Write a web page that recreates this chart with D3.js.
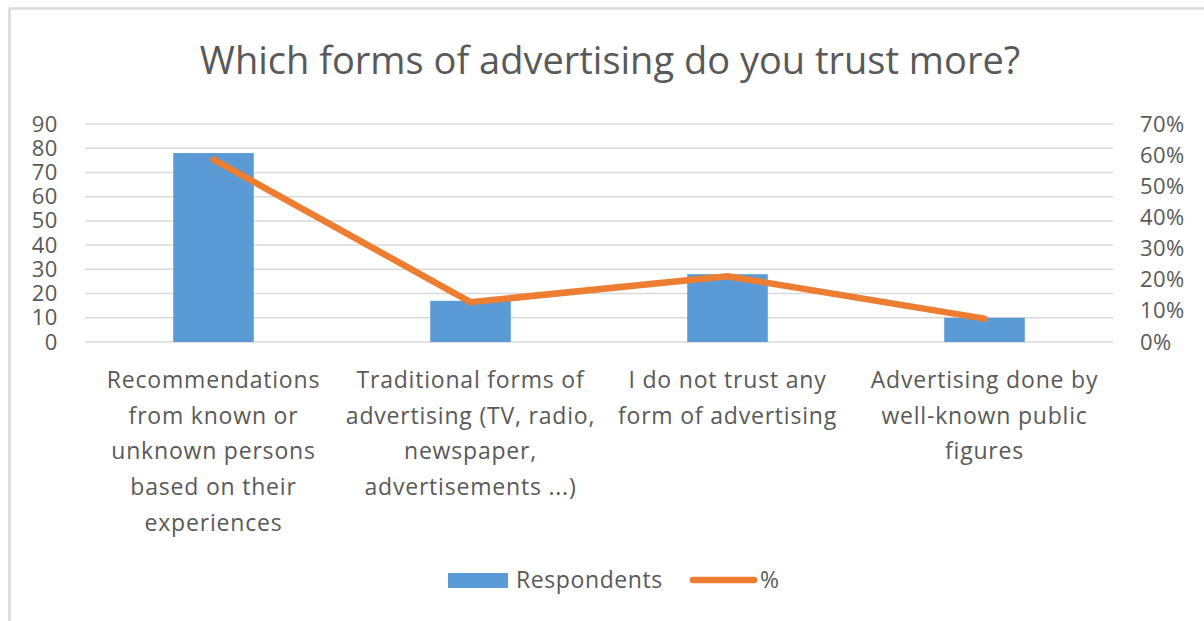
<!DOCTYPE html>
<html>
<head>
<meta charset="utf-8">
<script src="https://cdn.jsdelivr.net/npm/d3@7"></script>
<style>
  body { margin: 0; background: #fff; }
  text { font-family: "Open Sans", "DejaVu Sans", sans-serif; fill: #595959; }
</style>
</head>
<body>
<div id="graphe"></div>
<script>
//----------------------------------------------------------------
// données
//----------------------------------------------------------------
var categories = ["Recommendations from known or unknown persons based on their experiences",
                  "Traditional forms of advertising (TV, radio, newspaper, advertisements ...)",
                  "I do not trust any form of advertising",
                  "Advertising done by well-known public figures"];
var lignesCategories = [
    ["Recommendations", "from known or", "unknown persons", "based on their", "experiences"],
    ["Traditional forms of", "advertising (TV, radio,", "newspaper,", "advertisements ...)"],
    ["I do not trust any", "form of advertising"],
    ["Advertising done by", "well-known public", "figures"]
];
var repondants = [78, 17, 28, 10];
var pourcentages = [0.586, 0.128, 0.211, 0.075];
var ticksGauche = [0, 10, 20, 30, 40, 50, 60, 70, 80, 90];
var ticksDroite = [0, 0.1, 0.2, 0.3, 0.4, 0.5, 0.6, 0.7];
var titre = "Which forms of advertising do you trust more?";

//----------------------------------------------------------------
// création du svg
//----------------------------------------------------------------
largeurSvg = 1204 ; hauteurSvg = 621;
var zone = {haut: 124, droite: 1113, bas: 342, gauche: 85};

var svg = d3.select("#graphe")
    .append("svg")
    .attr("width", largeurSvg)
    .attr("height", hauteurSvg);

// bordure (haut et gauche visibles seulement)
svg.append("line")
    .attr("x1", 9).attr("y1", 8.5).attr("x2", largeurSvg).attr("y2", 8.5)
    .attr("stroke", "#d9d9d9").attr("stroke-width", 2.5);
svg.append("line")
    .attr("x1", 9.5).attr("y1", 8).attr("x2", 9.5).attr("y2", hauteurSvg)
    .attr("stroke", "#d9d9d9").attr("stroke-width", 2.5);

// titre
var t = svg.append("text")
    .attr("x", 610)
    .attr("y", 74)
    .attr("text-anchor", "middle")
    .style("font-size", "38px")
    .text(titre);
if (t.node().getComputedTextLength() > 828) {
    t.attr("textLength", 828).attr("lengthAdjust", "spacingAndGlyphs");
}

//----------------------------------------------------------------
// échelles
//----------------------------------------------------------------
var x = d3.scaleBand()
    .domain(categories)
    .range([zone.gauche, zone.droite])
    .padding(0);
var y = d3.scaleLinear()
    .domain([0, 90])
    .range([zone.bas, zone.haut]);
var y2 = d3.scaleLinear()
    .domain([0, 0.7])
    .range([zone.bas, zone.haut]);

var largeurBarre = x.bandwidth() / 3.19;

// lignes de grille
svg.append("g")
    .selectAll("line")
    .data(ticksGauche)
    .enter().append("line")
    .attr("x1", zone.gauche).attr("x2", zone.droite)
    .attr("y1", function(d) { return y(d); })
    .attr("y2", function(d) { return y(d); })
    .attr("stroke", "#d9d9d9")
    .attr("stroke-width", 1.5);

// axe gauche
var axeG = svg.append("g")
    .attr("transform", "translate(" + (zone.gauche - 27) + ",0)")
    .call(d3.axisLeft(y).tickValues(ticksGauche).tickSize(0).tickPadding(0));
axeG.select(".domain").remove();
axeG.selectAll("text").style("font-size", "22px").style("letter-spacing", "0.6px").attr("fill", "#595959");

// axe droit
var axeD = svg.append("g")
    .attr("transform", "translate(" + (zone.droite + 27) + ",0)")
    .call(d3.axisRight(y2).tickValues(ticksDroite).tickSize(0).tickPadding(0)
        .tickFormat(d3.format(".0%")));
axeD.select(".domain").remove();
axeD.selectAll("text").style("font-size", "22px").style("letter-spacing", "0.4px").attr("fill", "#595959");

//----------------------------------------------------------------
// barres
//----------------------------------------------------------------
svg.append("g")
    .selectAll("rect")
    .data(repondants)
    .enter().append("rect")
    .attr("x", function(d, i) { return x(categories[i]) + x.bandwidth() / 2 - largeurBarre / 2; })
    .attr("width", largeurBarre)
    .attr("y", function(d) { return y(d); })
    .attr("height", function(d) { return y(0) - y(d); })
    .attr("fill", "#5b9bd5");

// courbe des pourcentages
var ligne = d3.line()
    .x(function(d, i) { return x(categories[i]) + x.bandwidth() / 2; })
    .y(function(d) { return y2(d); });
svg.append("path")
    .datum(pourcentages)
    .attr("d", ligne)
    .attr("fill", "none")
    .attr("stroke", "#ed7d31")
    .attr("stroke-width", 6.5)
    .attr("stroke-linecap", "round")
    .attr("stroke-linejoin", "round");

//----------------------------------------------------------------
// étiquettes des catégories
//----------------------------------------------------------------
var etiquettes = svg.append("g")
    .selectAll("text")
    .data(lignesCategories)
    .enter().append("text")
    .attr("text-anchor", "middle")
    .style("font-size", "23px")
    .style("letter-spacing", "0.8px")
    .attr("x", function(d, i) { return x(categories[i]) + x.bandwidth() / 2; })
    .attr("y", 380);
etiquettes.selectAll("tspan")
    .data(function(d) { return d; })
    .enter().append("tspan")
    .attr("x", function() { return d3.select(this.parentNode).attr("x"); })
    .attr("y", function(d, j) { return 380 + j * 35.7; })
    .attr("dy", "0.35em")
    .text(function(d) { return d; });

//----------------------------------------------------------------
// légende
//----------------------------------------------------------------
var legende = svg.append("g");
legende.append("rect")
    .attr("x", 448).attr("y", 573).attr("width", 60).attr("height", 15)
    .attr("fill", "#5b9bd5");
legende.append("text")
    .attr("x", 516).attr("y", 580).attr("dy", "0.35em")
    .style("font-size", "23px")
    .style("letter-spacing", "0.6px")
    .text("Respondents");
legende.append("line")
    .attr("x1", 693).attr("x2", 754).attr("y1", 580).attr("y2", 580)
    .attr("stroke", "#ed7d31").attr("stroke-width", 6.5)
    .attr("stroke-linecap", "round");
legende.append("text")
    .attr("x", 760).attr("y", 580).attr("dy", "0.35em")
    .style("font-size", "23px")
    .text("%");
</script>
</body>
</html>
